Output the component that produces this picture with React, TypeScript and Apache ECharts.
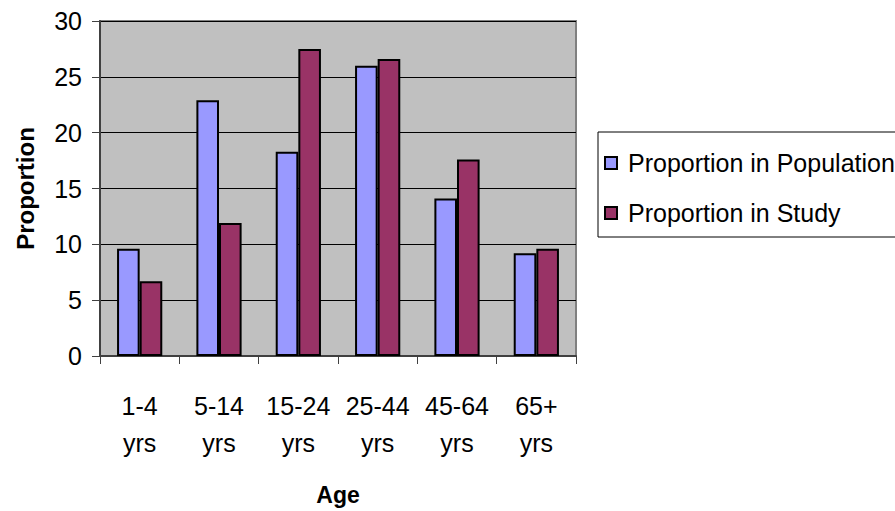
import React, { useEffect, useRef } from "react";
import * as echarts from "echarts";

const categories = ["1-4\nyrs", "5-14\nyrs", "15-24\nyrs", "25-44\nyrs", "45-64\nyrs", "65+\nyrs"];
const populationValues = [9.6, 22.9, 18.3, 26.0, 14.1, 9.2];
const studyValues = [6.7, 11.9, 27.5, 26.6, 17.6, 9.6];
const seriesNames = ["Proportion in Population", "Proportion in Study"];

const FONT = "'Liberation Sans', Arial, sans-serif";

export default function App() {
  const ref = useRef<HTMLDivElement>(null);
  useEffect(() => {
    if (!ref.current) return;
    const chart = echarts.init(ref.current, undefined, { renderer: "svg" });
    chart.setOption({
      animation: false,
      textStyle: { fontFamily: FONT },
      grid: {
        left: 100,
        top: 21,
        right: 319,
        bottom: 155,
        show: true,
        backgroundColor: "#C0C0C0",
        borderColor: "#808080",
        borderWidth: 2,
      },
      legend: {
        orient: "vertical",
        left: 598,
        top: 132,
        data: seriesNames,
        icon: "rect",
        itemWidth: 12,
        itemHeight: 12,
        itemGap: 20,
        borderColor: "#000",
        borderWidth: 1,
        padding: [16, 6, 9, 6],
        textStyle: {
          fontFamily: FONT,
          fontSize: 25,
          color: "#000",
          lineHeight: 30,
          padding: [0, 0, 0, 6],
        },
      },
      xAxis: {
        type: "category",
        data: categories,
        name: "Age",
        nameLocation: "middle",
        nameGap: 127,
        nameTextStyle: { fontFamily: FONT, fontSize: 23, fontWeight: "bold", color: "#000" },
        axisLine: { lineStyle: { color: "#404040", width: 2 } },
        axisTick: { show: true, length: 8, lineStyle: { color: "#404040", width: 1 } },
        axisLabel: {
          fontFamily: FONT,
          fontSize: 25,
          color: "#000",
          lineHeight: 37,
          margin: 31,
          interval: 0,
        },
      },
      yAxis: {
        type: "value",
        min: 0,
        max: 30,
        interval: 5,
        name: "Proportion",
        nameLocation: "middle",
        nameGap: 63,
        nameTextStyle: { fontFamily: FONT, fontSize: 24, fontWeight: "bold", color: "#000" },
        axisLine: { show: true, lineStyle: { color: "#404040", width: 2 } },
        axisTick: { show: true, length: 8, lineStyle: { color: "#404040", width: 1 } },
        axisLabel: { fontFamily: FONT, fontSize: 25, color: "#000", margin: 18 },
        splitLine: { show: true, lineStyle: { color: "#000", width: 1 } },
      },
      series: [
        {
          name: seriesNames[0],
          type: "bar",
          data: populationValues,
          barGap: "0%",
          barCategoryGap: "43%",
          itemStyle: { color: "#9999FF", borderColor: "#000", borderWidth: 2 },
        },
        {
          name: seriesNames[1],
          type: "bar",
          data: studyValues,
          barGap: "0%",
          barCategoryGap: "43%",
          itemStyle: { color: "#993366", borderColor: "#000", borderWidth: 2 },
        },
      ],
    });
    return () => chart.dispose();
  }, []);
  return (
    <div
      ref={ref}
      style={{ position: "absolute", left: 0, top: 0, width: 895, height: 511 }}
    />
  );
}
